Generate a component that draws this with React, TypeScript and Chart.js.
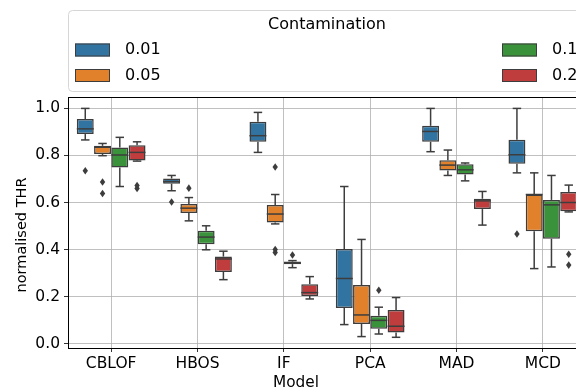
import { useEffect, useRef } from 'react';
import { Chart, registerables } from 'chart.js';

Chart.register(...registerables);

// Categories and hue levels
const models = ['CBLOF', 'HBOS', 'IF', 'PCA', 'MAD', 'MCD'];
const contaminations = ['0.01', '0.05', '0.1', '0.2'];
const colors = ['#3274a1', '#e1812c', '#3a923a', '#c03d3e'];
const yTicks = [0, 0.2, 0.4, 0.6, 0.8, 1.0];

// Box statistics, one row per contamination level, one column per model
const whiskerLow = [
  [0.866, 0.650, 0.813, 0.081, 0.816, 0.726],
  [0.799, 0.522, 0.509, 0.030, 0.715, 0.319],
  [0.668, 0.399, 0.323, 0.041, 0.692, 0.326],
  [0.776, 0.272, 0.190, 0.027, 0.504, 0.560],
];
const q1 = [
  [0.891, 0.680, 0.858, 0.152, 0.858, 0.765],
  [0.806, 0.555, 0.515, 0.084, 0.736, 0.478],
  [0.749, 0.423, 0.338, 0.063, 0.719, 0.446],
  [0.779, 0.305, 0.203, 0.047, 0.572, 0.563],
];
const median = [
  [0.913, 0.689, 0.884, 0.277, 0.902, 0.803],
  [0.835, 0.576, 0.551, 0.122, 0.759, 0.634],
  [0.802, 0.453, 0.342, 0.099, 0.739, 0.590],
  [0.813, 0.360, 0.217, 0.074, 0.607, 0.600],
];
const q3 = [
  [0.955, 0.702, 0.943, 0.402, 0.926, 0.867],
  [0.841, 0.594, 0.589, 0.249, 0.780, 0.634],
  [0.834, 0.480, 0.349, 0.119, 0.763, 0.611],
  [0.843, 0.370, 0.253, 0.143, 0.616, 0.645],
];
const whiskerHigh = [
  [1.000, 0.715, 0.983, 0.668, 1.000, 1.000],
  [0.851, 0.621, 0.634, 0.443, 0.823, 0.726],
  [0.877, 0.501, 0.353, 0.155, 0.768, 0.715],
  [0.858, 0.393, 0.285, 0.196, 0.647, 0.674],
];
const outliers: number[][][] = [
  [[0.735], [0.602], [], [], [], [0.466]],
  [[0.687, 0.638], [0.661], [0.751, 0.400, 0.388], [], [], []],
  [[], [], [0.377], [0.227], [], []],
  [[0.672, 0.660], [], [], [], [], [0.380, 0.334]],
];

const EDGE = '#3d3d3d';
const FONT = 'DejaVu Sans';
const AXES_RIGHT = 586; // the axes continue a little past the canvas edge

// Stretch the plot area beyond the right edge of the canvas
const extendRight = {
  id: 'extendRight',
  afterLayout(chart: any) {
    const area = chart.chartArea;
    area.right = AXES_RIGHT;
    area.width = AXES_RIGHT - area.left;
    const xs = chart.scales.x;
    xs.right = AXES_RIGHT;
    xs.width = AXES_RIGHT - xs.left;
    xs.configure();
  },
};

// Whiskers, caps, medians, fliers, axis titles and the legend
const boxDetails = {
  id: 'boxDetails',
  afterDraw(chart: any) {
    const ctx = chart.ctx;
    const ys = chart.scales.y;
    const area = chart.chartArea;
    ctx.save();
    ctx.strokeStyle = EDGE;
    ctx.fillStyle = EDGE;
    ctx.lineWidth = 1.5;
    const line = (x0: number, y0: number, x1: number, y1: number) => {
      ctx.beginPath();
      ctx.moveTo(x0, y0);
      ctx.lineTo(x1, y1);
      ctx.stroke();
    };
    chart.data.datasets.forEach((_ds: any, i: number) => {
      const meta = chart.getDatasetMeta(i);
      meta.data.forEach((bar: any, j: number) => {
        const { x, width } = bar.getProps(['x', 'width'], true);
        const half = width / 2;
        const cap = width / 4;
        const yLo = ys.getPixelForValue(whiskerLow[i][j]);
        const yQ1 = ys.getPixelForValue(q1[i][j]);
        const yMed = ys.getPixelForValue(median[i][j]);
        const yQ3 = ys.getPixelForValue(q3[i][j]);
        const yHi = ys.getPixelForValue(whiskerHigh[i][j]);
        line(x, yQ1, x, yLo);
        line(x - cap, yLo, x + cap, yLo);
        line(x, yQ3, x, yHi);
        line(x - cap, yHi, x + cap, yHi);
        line(x - half, yMed, x + half, yMed);
        outliers[i][j].forEach((v) => {
          const py = ys.getPixelForValue(v);
          ctx.beginPath();
          ctx.moveTo(x, py - 3.8);
          ctx.lineTo(x + 2.7, py);
          ctx.lineTo(x, py + 3.8);
          ctx.lineTo(x - 2.7, py);
          ctx.closePath();
          ctx.fill();
        });
      });
    });
    // top spine
    ctx.strokeStyle = '#000';
    ctx.lineWidth = 1;
    line(area.left, area.top + 0.5, area.right, area.top + 0.5);

    // axis titles
    ctx.fillStyle = '#000';
    ctx.textAlign = 'center';
    ctx.textBaseline = 'middle';
    ctx.font = `15.3px "${FONT}"`;
    ctx.fillText('Model', 296, 383);
    ctx.save();
    ctx.translate(22, 235);
    ctx.rotate(-Math.PI / 2);
    ctx.font = `14.5px "${FONT}"`;
    ctx.fillText('normalised THR', 0, 0);
    ctx.restore();

    // legend, spanning the full axes width
    const lx0 = 68.5, ly0 = 10.5, lx1 = area.right, ly1 = 91.5, r = 4;
    ctx.beginPath();
    ctx.moveTo(lx0 + r, ly0);
    ctx.lineTo(lx1 - r, ly0);
    ctx.arcTo(lx1, ly0, lx1, ly0 + r, r);
    ctx.lineTo(lx1, ly1 - r);
    ctx.arcTo(lx1, ly1, lx1 - r, ly1, r);
    ctx.lineTo(lx0 + r, ly1);
    ctx.arcTo(lx0, ly1, lx0, ly1 - r, r);
    ctx.lineTo(lx0, ly0 + r);
    ctx.arcTo(lx0, ly0, lx0 + r, ly0, r);
    ctx.closePath();
    ctx.fillStyle = '#fff';
    ctx.fill();
    ctx.strokeStyle = '#d6d6d6';
    ctx.lineWidth = 1;
    ctx.stroke();

    ctx.fillStyle = '#000';
    ctx.font = `16px "${FONT}"`;
    ctx.textAlign = 'center';
    ctx.fillText('Contamination', (area.left + area.right) / 2, 25);

    const slots = [
      { px: 75, tx: 125, y: 50 },
      { px: 75, tx: 125, y: 75.5 },
      { px: 502, tx: 552, y: 50 },
      { px: 502, tx: 552, y: 75.5 },
    ];
    ctx.textAlign = 'left';
    contaminations.forEach((c, i) => {
      const s = slots[i];
      ctx.fillStyle = colors[i];
      ctx.fillRect(s.px, s.y - 6.5, 35, 13);
      ctx.strokeStyle = EDGE;
      ctx.lineWidth = 1;
      ctx.strokeRect(s.px + 0.5, s.y - 6, 34, 12);
      ctx.fillStyle = '#000';
      ctx.fillText(c, s.tx, s.y);
    });
    ctx.restore();
  },
};

export default function App() {
  const ref = useRef<HTMLCanvasElement>(null);

  useEffect(() => {
    if (!ref.current) return;
    const tickFont = { family: FONT, size: 15.5 };
    const chart = new Chart(ref.current, {
      type: 'bar',
      data: {
        labels: models,
        datasets: contaminations.map((c, i) => ({
          label: c,
          data: models.map((_, j) => [q1[i][j], q3[i][j]]),
          backgroundColor: colors[i],
          borderColor: EDGE,
          borderWidth: 1.5,
          borderSkipped: false,
          barPercentage: 0.98,
          categoryPercentage: 0.8,
        })),
      } as any,
      options: {
        responsive: false,
        animation: false,
        devicePixelRatio: 1,
        layout: { padding: { left: 0, right: 0, top: 97, bottom: 0 } },
        plugins: {
          legend: { display: false },
          tooltip: { enabled: false },
        },
        scales: {
          x: {
            type: 'category',
            offset: true,
            z: 1,
            grid: {
              offset: false,
              color: '#b0b0b0',
              lineWidth: 0.8,
              tickLength: 4,
              tickColor: '#000',
            },
            border: { display: true, color: '#000', width: 1 },
            ticks: { color: '#000', font: tickFont, padding: 3, maxRotation: 0, autoSkip: false },
            afterFit: (s: any) => {
              s.height = 44;
            },
          },
          y: {
            min: -0.0185,
            max: 1.0485,
            z: 1,
            afterBuildTicks: (s: any) => {
              s.ticks = yTicks.map((v) => ({ value: v }));
            },
            grid: {
              color: '#b0b0b0',
              lineWidth: 0.8,
              tickLength: 4,
              tickColor: '#000',
            },
            border: { display: true, color: '#000', width: 1 },
            ticks: {
              color: '#000',
              font: tickFont,
              padding: 4,
              callback: (v: any) => Number(v).toFixed(1),
            },
            afterFit: (s: any) => {
              s.width = 68;
            },
          },
        },
      } as any,
      plugins: [extendRight, boxDetails],
    });
    return () => chart.destroy();
  }, []);

  return (
    <div
      style={{
        position: 'fixed',
        left: 0,
        top: 0,
        width: 576,
        height: 392,
        overflow: 'hidden',
        background: '#fff',
      }}
    >
      <canvas ref={ref} width={576} height={392} style={{ display: 'block' }} />
    </div>
  );
}
